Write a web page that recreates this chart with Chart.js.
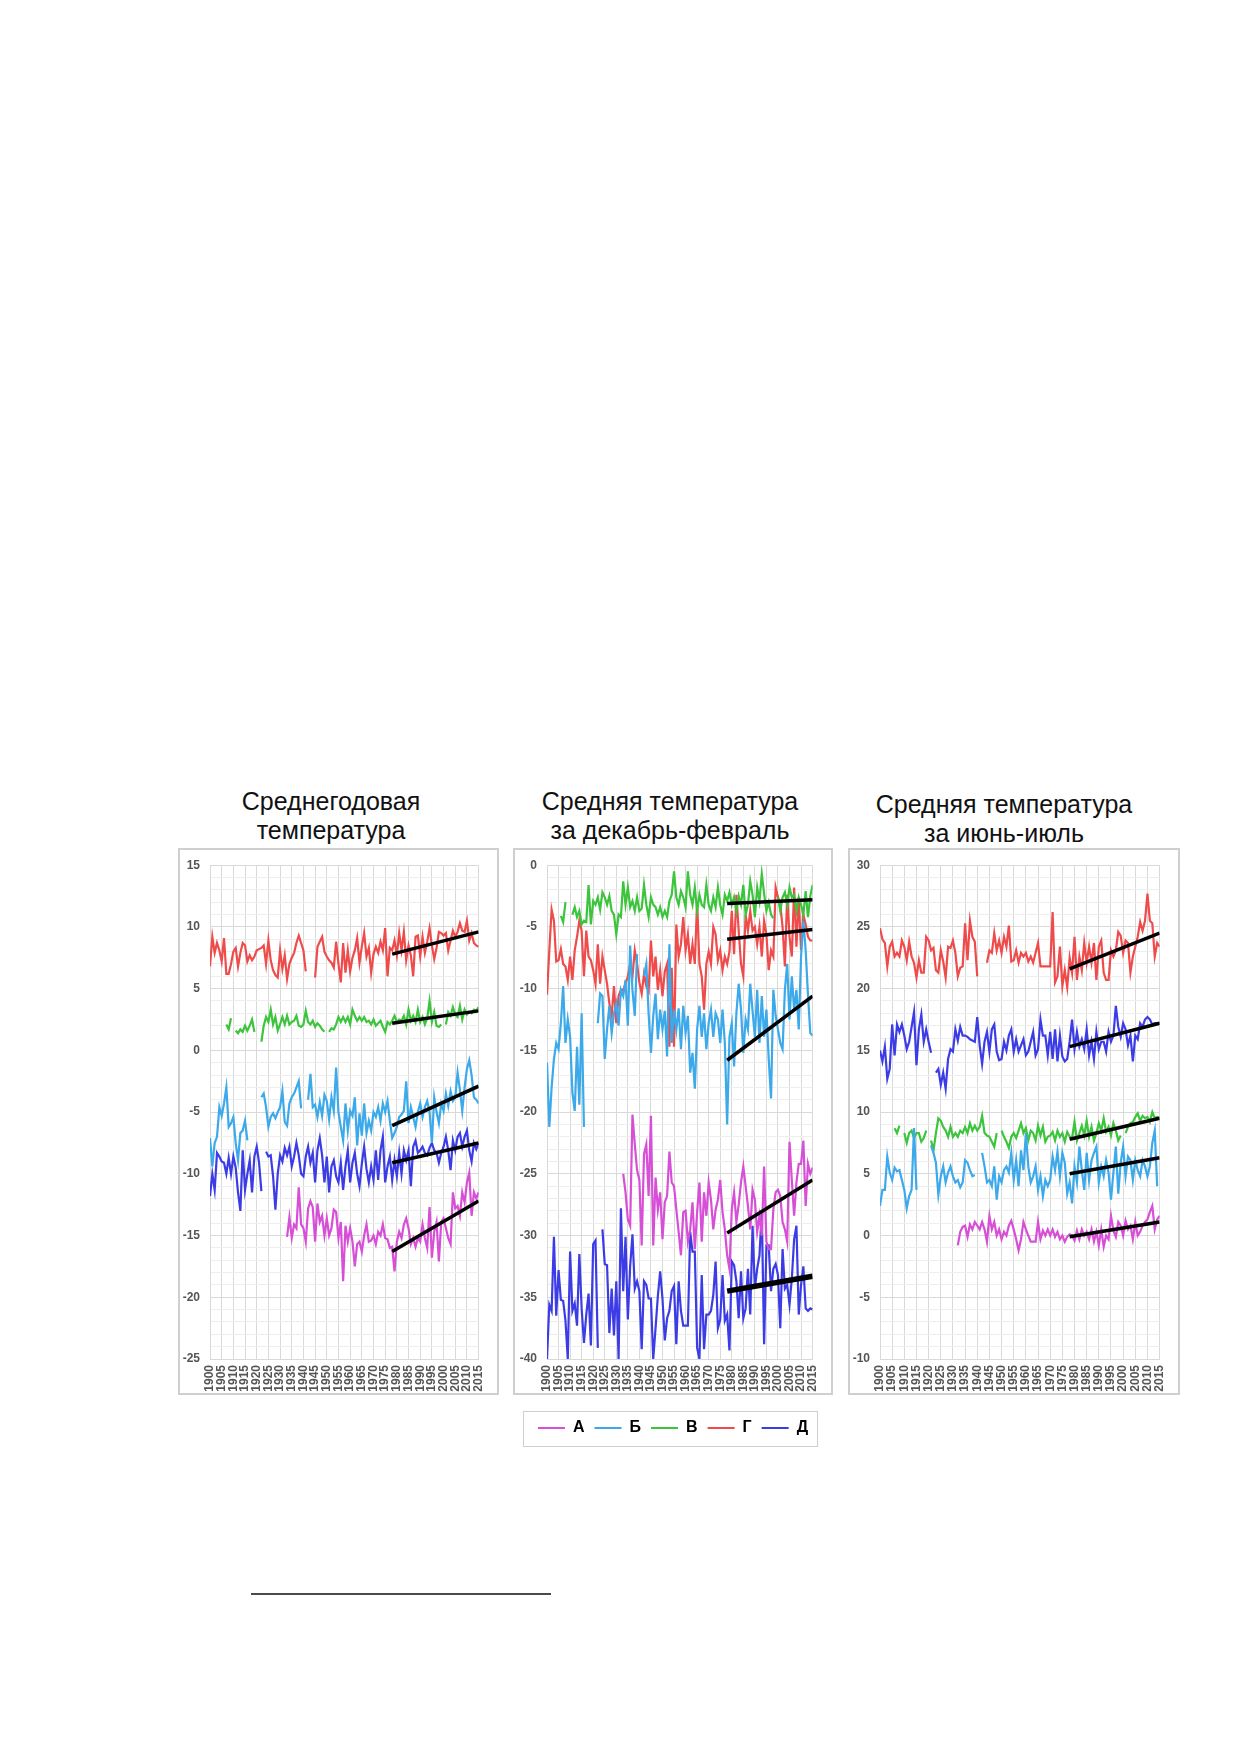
<!DOCTYPE html>
<html>
<head>
<meta charset="utf-8">
<script src="https://cdn.jsdelivr.net/npm/chart.js@4.4.1/dist/chart.umd.min.js"></script>
<style>
  html, body { margin: 0; padding: 0; background: #fff; }
  body { width: 1239px; height: 1752px; position: relative; overflow: hidden; font-family: 'Liberation Sans', Arial, sans-serif; }
  .title { position: absolute; width: 360px; text-align: center; font-size: 25px; line-height: 29px; color: #111; }
  .box { position: absolute; box-sizing: border-box; border: 2px solid #cfcfcf; }
  .box canvas { position: absolute; left: -2px; top: -2px; }
  .footline { position: absolute; left: 251px; top: 1593px; width: 300px; height: 2px; background: #4a4a4a; }
</style>
</head>
<body>

<div class="title" style="left:151px; top:787px;">Среднегодовая<br>температура</div>
<div class="title" style="left:490px; top:787px;">Средняя температура<br>за декабрь-февраль</div>
<div class="title" style="left:824px; top:790px;">Средняя температура<br>за июнь-июль</div>

<div class="box" style="left:178px; top:848px; width:321px; height:547px;"><canvas id="annual" width="321" height="547"></canvas></div>
<div class="box" style="left:513px; top:848px; width:320px; height:547px;"><canvas id="winter" width="320" height="547"></canvas></div>
<div class="box" style="left:848px; top:848px; width:332px; height:547px;"><canvas id="summer" width="332" height="547"></canvas></div>

<div class="box" style="left:523px; top:1411px; width:295px; height:36px; border-width:1.5px;"></div>
<canvas id="legend" width="320" height="90" style="position:absolute; left:513px; top:1410px;"></canvas>

<div class="footline"></div>

<script>
// years run 1900..2015, one value per year, null = no data
const FIRST_YEAR = 1900;
const LAST_YEAR = 2015;
function fromYear(start, vals) {
  const out = [];
  for (let y = FIRST_YEAR; y < start; y++) out.push(null);
  return out.concat(vals);
}

const seriesNames = ['А', 'Б', 'В', 'Г', 'Д'];
const seriesColors = ['#d64fd6', '#3ba9ea', '#3cc43c', '#ef4b4b', '#3c3ce6'];

// trend lines drawn over 1978..2015
const trendYears = [1978, 2015];

// ---- annual mean temperature ----
const annA = fromYear(1933, [
  -15.1, -13.5, -15.2, -14.1, -14.4, -11.1, -14.1,
  -14.4, -15.5, -12.8, -12.2, -12.7, -15.5, -12.4, -13.9, -13.4, -15.0,
  -13.6, -15.0, -14.4, -12.9, -13.1, -15.2, -13.9, -18.7, -14.2, -15.5,
  -14.4, -15.5, -17.5, -15.7, -15.5, -16.3, -15.0, -14.1, -15.5, -15.4,
  -15.0, -15.7, -14.7, -15.0, -14.1, -15.2, -15.3, -16.0, -15.9, -17.9,
  -15.5, -14.7, -15.2, -14.1, -13.6, -14.4, -15.7, -15.2, -15.9, -15.2,
  -15.5, -14.1, -15.2, -16.0, -12.7, -16.8, -14.7, -13.9, -17.1, -13.9,
  -13.6, -14.4, -15.2, -15.7, -11.5, -12.8, -12.6, -13.4, -11.5, -12.3,
  -10.7, -9.9, -13.4, -11.5, -12.0, -11.5
]);
const annB = [
  -7.1, -9.4, -7.5, -7.0, -4.6, -5.3, -4.3, -3.0, -6.2, -5.9,
  -5.4, -7.5, -8.9, -6.7, -6.5, -5.7, -7.3, null, null, null,
  null, null, -3.8, -3.5, -4.6, -6.2, -5.4, -5.1, -5.5, -5.0,
  -4.6, -3.3, -5.8, -6.1, -4.3, -3.8, -3.5, -3.0, -2.5, -4.7,
  null, null, -4.0, -1.9, -4.6, -4.4, -5.4, -4.2, -5.3, -3.6,
  -4.1, -5.6, -3.8, -4.9, -1.4, -5.0, -6.2, -7.3, -4.3, -6.5,
  -4.9, -5.3, -3.8, -7.7, -5.1, -6.9, -4.3, -6.7, -5.7, -6.5,
  -5.0, -5.4, -4.6, -5.7, -4.3, -5.0, -4.1, -5.7, -7.1, -6.7,
  -6.2, -5.4, -5.2, -4.9, -2.5, -5.9, -4.6, -5.4, -6.2, -5.0,
  -4.3, -5.4, -4.6, -4.1, -5.0, -7.5, -3.8, -5.0, -5.9, -4.3,
  -4.9, -3.5, -4.5, -3.3, -4.1, -3.8, -1.8, -3.2, -4.9, -3.0,
  -1.5, -0.8, -2.0, -3.8, -4.0, -4.3
];
const annV = fromYear(1907, [
  2.1, 1.7, 2.6,
  null, 1.6, 1.4, 1.7, 1.5, 2.0, 1.6, 2.0, 2.5, 1.5,
  null, null, 0.7, 2.0, 2.7, 2.3, 3.3, 2.1, 2.7, 1.6,
  2.1, 2.7, 2.1, 2.8, 2.1, 2.3, 2.4, 2.8, 2.0, 1.9,
  2.1, 3.2, 2.3, 2.1, 2.4, 1.9, 2.2, 2.0, 1.7, 1.5,
  null, 1.5, 1.8, 1.7, 2.1, 2.7, 2.3, 2.7, 2.3, 2.7,
  2.1, 3.3, 2.8, 2.4, 2.7, 2.4, 2.7, 2.3, 2.4, 2.1,
  2.5, 2.0, 2.2, 2.4, 1.9, 1.5, 2.3, 2.1, 2.4, 2.8,
  2.3, 2.5, 2.4, 2.8, 2.1, 3.3, 2.4, 2.8, 2.3, 3.3,
  2.3, 2.7, 2.1, 2.6, 4.0, 2.3, 3.1, 2.0, 1.9, 2.1,
  null, 2.1, 3.1, 2.8, 3.5, 2.9, 2.7, 3.6, 2.5, 3.3,
  2.9, 3.1, 3.0, 3.3, 3.2, 3.5
]);
const annG = [
  6.8, 9.2, 7.9, 8.7, 8.1, 7.2, 9.1, 6.2, 6.2, 7.0,
  8.0, 8.3, 6.8, 7.9, 8.7, 8.5, 7.2, 7.7, 7.3, 7.6,
  8.1, 8.2, 8.3, 8.5, 7.0, 8.9, 7.3, 6.5, 6.1, 5.9,
  8.1, 6.6, 7.7, 5.8, 7.0, 7.5, 7.9, 8.7, 9.3, 8.7,
  8.1, 6.4, null, null, null, 5.9, 8.4, 8.8, 9.2, 8.0,
  7.6, 7.3, 7.1, 6.7, 8.8, 7.0, 5.5, 8.7, 6.3, 8.1,
  6.4, 7.5, 8.1, 9.1, 7.1, 8.4, 9.5, 7.6, 8.3, 6.3,
  7.8, 8.4, 7.9, 8.8, 8.1, 9.9, 6.0, 8.3, 8.1, 8.9,
  7.7, 9.5, 8.1, 9.6, 7.3, 8.5, 7.7, 6.0, 9.2, 9.3,
  7.6, 9.2, 7.9, 8.8, 9.9, 8.5, 7.4, 8.3, 9.6, 9.5,
  9.3, 9.5, 8.1, 8.9, 9.7, 9.2, 9.6, 10.3, 9.7, 9.6,
  10.5, 8.9, 9.5, 8.7, 8.5, 8.4
];
const annD = [
  -11.8, -10.0, -11.3, -8.3, -8.6, -9.0, -9.1, -10.0, -8.7, -10.0,
  -8.6, -9.5, -11.5, -13.0, -8.1, -11.3, -10.0, -8.9, -11.5, -8.6,
  -7.8, -9.1, -11.4, null, -8.2, -8.6, -8.5, -10.2, -12.9, -10.0,
  -8.5, -9.0, -7.9, -8.5, -7.8, -9.4, -8.6, -7.5, -8.5, -10.0,
  -10.2, -8.6, -7.8, -9.1, -8.3, -10.7, -8.1, -7.1, -8.5, -10.7,
  -8.6, -11.5, -9.4, -8.9, -10.2, -10.7, -9.1, -11.3, -9.4, -8.1,
  -10.7, -9.1, -8.3, -10.0, -11.0, -9.2, -7.8, -9.6, -10.7, -9.4,
  -10.5, -8.1, -10.5, -8.1, -7.0, -10.7, -9.4, -8.6, -10.5, -8.9,
  -10.2, -8.3, -10.0, -8.1, -8.9, -8.1, -11.0, -7.8, -7.3, -8.3,
  -8.1, -7.8, -8.3, -8.5, -7.9, -7.5, -8.1, -8.3, -9.1, -8.3,
  -7.8, -7.0, -8.1, -9.7, -7.3, -8.1, -7.0, -6.7, -7.8, -7.0,
  -6.5, -8.1, -9.0, -7.5, -8.0, -7.5
];
const annTrendStart = [-16.3, -6.1, 2.2, 7.8, -9.1];
const annTrendEnd   = [-12.2, -2.9, 3.2, 9.6, -7.5];

// ---- December-February ----
const winA = fromYear(1933, [
  -25.0, -26.5, -28.7, -29.2, -20.2, -22.6, -24.7,
  -25.5, -30.8, -23.4, -22.6, -26.8, -20.3, -30.8, -25.3, -27.9, -26.5,
  -30.3, -27.3, -26.8, -23.2, -25.7, -26.0, -27.9, -29.7, -31.6, -28.1,
  -28.0, -30.5, -29.5, -27.3, -31.1, -28.1, -25.7, -30.5, -26.5, -28.4,
  -25.7, -27.1, -29.5, -27.9, -27.1, -25.5, -28.1, -29.5, -31.6, -32.7,
  -27.9, -26.5, -28.9, -27.5, -25.7, -24.4, -26.0, -27.6, -29.5, -26.3,
  -27.1, -29.7, -28.4, -30.0, -24.4, -30.5, -31.1, -31.1, -27.9, -26.5,
  -26.3, -26.8, -28.9, -29.5, -30.5, -22.4, -25.5, -28.4, -25.7, -24.2,
  -24.2, -22.3, -27.6, -24.2, -25.0, -24.5
]);
const winB = [
  -16.0, -21.2, -18.0, -15.7, -14.4, -14.9, -12.8, -9.8, -14.4, -12.5,
  -13.9, -18.4, -19.9, -14.7, -19.4, -12.0, -21.2, null, null, null,
  null, null, -12.8, -10.4, -10.6, -15.7, -13.3, -11.4, -13.6, -12.0,
  -11.2, -13.0, -10.1, -10.6, -9.3, -13.0, -6.5, -10.1, -12.2, -7.2,
  null, null, -9.0, -8.0, -12.0, -15.2, -12.2, -10.4, -14.1, -11.7,
  -13.3, -11.8, -15.5, -6.4, -14.4, -11.7, -13.3, -11.6, -14.9, -11.4,
  -13.6, -12.2, -16.8, -15.2, -18.1, -13.3, -11.4, -13.9, -12.0, -14.9,
  -12.8, -11.7, -13.9, -12.0, -12.5, -14.4, -11.7, -14.4, -21.0, -13.9,
  -12.8, -16.3, -12.0, -9.6, -11.7, -15.2, -12.5, -13.3, -9.6, -11.8,
  -13.9, -10.1, -14.4, -10.6, -13.9, -11.7, -15.7, -18.9, -10.1, -12.2,
  -13.3, -14.4, -14.9, -10.1, -8.0, -12.5, -9.0, -11.7, -10.1, -13.3,
  -7.4, -4.5, -6.9, -10.5, -13.6, -13.8
];
const winV = fromYear(1906, [
  -4.1, -4.6, -3.0, null,
  null, -4.0, -3.4, -4.2, -3.7, -4.8, -4.5, -4.6, -1.6, -4.8,
  -2.9, -3.2, -2.6, -3.6, -2.2, -2.6, -3.2, -2.5, -3.7, -4.0,
  -5.6, -4.0, -4.2, -1.3, -3.2, -1.8, -3.4, -2.9, -3.7, -2.6,
  -3.7, -3.5, -1.6, -3.2, -4.2, -2.6, -3.2, -3.4, -4.0, -3.4,
  -4.2, -3.7, -4.2, -2.9, -2.4, -0.5, -2.6, -3.2, -2.1, -2.6,
  -3.4, -0.5, -2.4, -3.2, -1.8, -3.7, -2.4, -3.2, -3.4, -1.6,
  -3.2, -3.7, -2.6, -3.4, -1.8, -3.2, -4.0, -2.4, -2.9, -2.2,
  -3.2, -2.6, -3.7, -2.5, -3.2, -1.6, -4.0, -3.2, -1.3, -2.4,
  -4.2, -1.8, -2.9, -0.7, -2.3, -3.7, -3.0, -4.0, -4.3, null,
  -2.6, -3.7, -2.6, -2.2, -3.2, -1.8, -2.6, -2.4, -3.7, -2.6,
  -3.2, -4.0, -2.1, -4.2, -2.5, -1.6
]);
const winG = [
  -10.5, -6.9, -3.6, -4.5, -7.8, -7.7, -6.8, -8.0, -8.2, -9.3,
  -7.4, -9.3, -6.9, -5.8, -4.5, -5.3, -9.0, -5.3, -7.4, -7.7,
  -8.5, -9.6, -6.4, -9.6, -7.4, -8.5, -9.6, -11.2, -12.2, -9.8,
  -12.8, -10.6, -10.1, -10.1, -9.6, -9.0, -8.0, -9.0, -6.9, -8.0,
  -9.5, -10.4, -8.8, -9.8, -10.2, -6.1, -9.0, -7.4, -10.1, -8.5,
  -10.6, -8.6, -8.0, -14.7, -8.3, -14.7, -4.8, -7.4, -6.4, -4.2,
  -6.9, -5.6, -8.0, -6.4, -8.0, -2.9, -8.0, -9.0, -11.7, -8.0,
  -7.0, -8.0, -5.0, -5.6, -7.7, -6.9, -8.5, -7.4, -8.0, -7.0,
  -3.7, -7.2, -2.4, -5.3, -8.0, -9.0, -4.0, -5.3, -3.7, -5.3,
  -5.0, -6.4, -5.0, -7.4, -4.5, -5.6, -8.5, -6.9, -7.4, -1.8,
  -2.6, -3.2, -5.0, -8.2, -2.4, -5.8, -7.4, -1.8, -6.6, -2.6,
  -6.9, -4.0, -4.8, -5.8, -6.1, -6.1
];
const winD = [
  -40.0, -35.6, -36.1, -30.1, -36.5, -32.8, -35.2, -35.3, -36.9, -40.0,
  -31.3, -36.1, -35.5, -37.3, -31.5, -35.9, -38.7, -36.4, -34.7, -38.9,
  -30.7, -30.4, -39.1, null, -29.5, -32.3, -32.4, -37.9, -34.3, -38.1,
  -33.7, -40.0, -27.8, -34.5, -30.1, -36.8, -32.5, -29.9, -34.3, -33.7,
  -34.5, -39.2, -33.7, -34.0, -35.1, -35.1, -40.0, -37.5, -34.9, -32.9,
  -35.1, -38.5, -36.7, -36.1, -34.5, -34.1, -38.8, -33.7, -36.1, -37.3,
  -37.3, -37.3, -29.7, -31.3, -31.3, -39.1, -40.0, -33.2, -39.2, -36.4,
  -36.4, -36.1, -34.8, -32.1, -37.5, -36.8, -33.2, -36.9, -36.4, -39.3,
  -32.1, -32.4, -33.7, -36.7, -32.9, -36.7, -35.9, -32.7, -36.4, -29.2,
  -34.3, -32.7, -31.6, -28.0, -38.8, -30.8, -30.8, -34.5, -32.7, -32.3,
  -33.2, -37.5, -31.1, -34.3, -34.0, -35.6, -33.5, -30.3, -29.2, -36.4,
  -34.0, -32.5, -35.9, -36.1, -35.9, -36.0
];
const winTrendStart = [-29.8, -15.8, -3.1, -6.0, -34.5];
const winTrendEnd   = [-25.5, -10.6, -2.8, -5.2, -33.3];

// ---- June-July ----
const sumA = fromYear(1932, [
  -0.8, 0.3, 0.7, 0.8, -0.1, 0.9, 0.5, 1.1, 0.8, 0.5,
  1.1, 0.5, -0.5, 1.6, 0.5, 1.1, 0.0, 0.5, -0.3, 0.3,
  0.0, 0.8, 1.2, 0.5, -0.3, -1.2, -0.3, 1.1, 0.5, 0.0,
  -0.5, -0.5, -0.5, 1.1, -0.3, 0.4, 0.0, 0.5, 0.0, 0.5,
  -0.1, 0.3, -0.3, 0.0, -0.5, -0.1, 0.1, 0.0, -0.4, 0.4,
  -0.3, 0.5, 0.0, 0.3, -0.3, 0.5, -0.5, 0.3, -0.8, 0.5,
  -0.9, 0.0, -0.3, 1.6, 0.4, -0.1, 1.1, 0.8, 0.0, 1.2,
  0.5, 0.8, -0.3, 1.1, 0.0, 0.3, 0.8, 1.1, 1.3, 1.9,
  2.4, 0.5, 1.3, 1.6
]);
const sumB = [
  2.4, 3.7, 3.7, 6.4, 5.1, 4.5, 5.5, 5.2, 5.3, 4.5,
  3.7, 2.2, 3.2, 3.7, 8.7, 3.7, null, null, null, null,
  null, 7.3, 6.7, 5.9, 3.3, 4.8, 5.6, 4.3, 5.1, 5.6,
  4.8, 4.3, 4.5, 3.9, 4.3, 6.1, 5.9, 5.3, 4.8, 4.9,
  null, null, 6.7, 5.6, 4.3, 4.5, 4.0, 5.6, 2.9, 4.8,
  4.3, 5.3, 5.6, 5.1, 6.7, 4.5, 6.1, 4.0, 6.9, 5.3,
  8.3, 5.6, 4.3, 4.8, 5.6, 3.7, 4.8, 3.2, 4.5, 4.0,
  4.5, 6.4, 5.3, 6.8, 4.8, 6.7, 5.9, 3.4, 4.3, 2.6,
  5.6, 4.3, 7.2, 5.3, 3.7, 6.7, 4.5, 6.1, 6.7, 7.2,
  4.3, 5.6, 4.8, 6.1, 5.1, 2.9, 5.1, 7.2, 3.4, 5.9,
  7.2, 4.8, 6.4, 6.1, 4.5, 6.1, 5.3, 4.8, 6.1, 5.6,
  4.8, 5.6, 7.5, 8.5, 4.0, null
];
const sumV = fromYear(1906, [
  8.7, 8.3, 8.9, null,
  8.3, 7.5, 8.3, 8.5, 7.9, 8.3, 8.3, 7.6, 7.9, 8.5,
  null, 7.7, 6.9, 8.3, 9.5, 9.3, 8.8, 8.5, 8.0, 8.8,
  8.0, 8.3, 8.0, 8.5, 8.3, 8.8, 8.3, 9.1, 8.5, 8.9,
  8.5, 8.8, 9.7, 8.3, 8.1, 8.0, 7.6, 7.2, 8.3, null,
  8.5, 8.0, 7.6, 7.1, 8.0, 8.3, 7.9, 8.5, 9.1, 8.3,
  8.7, 7.7, 8.5, 8.3, 7.7, 8.9, 8.1, 8.8, 7.6, 8.0,
  8.1, 8.4, 7.7, 8.5, 8.0, 8.3, 7.6, 8.4, 8.0, 7.9,
  9.2, 7.7, 8.3, 8.9, 8.1, 9.3, 8.0, 8.8, 7.7, 8.3,
  9.1, 8.5, 9.5, 8.4, 8.8, 8.1, 9.1, 8.5, 7.7, 8.1,
  null, 8.3, 8.8, 9.1, 9.2, 9.6, 9.9, 9.3, 9.7, 9.5,
  9.6, 9.2, 10.0, 9.5, 9.6, 9.5
]);
const sumG = [
  24.9, 24.0, 23.7, 21.8, 23.4, 23.8, 22.6, 22.9, 22.6, 23.9,
  23.4, 22.3, 23.8, 22.6, 22.1, 20.9, 22.3, 21.3, 21.3, 24.2,
  23.9, 23.1, 23.3, 21.5, 21.3, 23.1, 22.2, 20.9, 23.4, 23.3,
  23.9, 22.9, 21.0, 21.7, 21.8, 25.3, 22.3, 25.5, 24.2, 23.8,
  21.0, null, null, null, 22.1, 23.1, 22.9, 24.5, 23.1, 23.9,
  22.9, 24.2, 23.4, 25.1, 22.2, 22.3, 23.1, 22.1, 22.9, 22.6,
  22.9, 22.2, 22.6, 22.1, 22.9, 23.7, 21.8, 21.8, 21.8, 21.8,
  21.8, 26.2, 20.5, 21.0, 23.4, 20.2, 21.5, 20.1, 22.5, 21.3,
  24.2, 20.7, 22.6, 21.5, 23.7, 22.1, 23.4, 22.1, 23.7, 20.7,
  23.4, 23.9, 21.3, 20.7, 20.7, 23.1, 22.6, 23.1, 24.6, 24.3,
  22.9, 23.9, 23.7, 21.3, 22.6, 23.4, 24.2, 25.4, 24.7, 25.5,
  27.7, 25.5, 25.3, 22.6, 23.7, 23.4
];
const sumD = [
  15.0, 14.1, 15.3, 12.7, 13.5, 17.1, 14.6, 17.1, 16.5, 17.1,
  16.2, 15.1, 15.7, 16.9, 18.1, 13.8, 16.7, 17.9, 15.7, 16.7,
  15.7, 14.8, null, 13.2, 13.5, 12.2, 13.2, 11.9, 14.3, 15.1,
  14.9, 16.7, 15.8, 16.9, 16.2, 16.2, 16.1, 15.9, 15.8, 15.7,
  17.7, 15.4, 13.9, 15.7, 16.5, 14.9, 16.7, 17.1, 14.9, 14.2,
  14.3, 15.7, 15.0, 16.2, 16.7, 14.9, 15.9, 14.9, 15.4, 15.9,
  14.6, 14.9, 15.7, 16.5, 14.6, 15.1, 17.5, 16.2, 16.2, 14.6,
  16.5, 14.3, 16.7, 14.1, 16.2, 14.5, 14.1, 14.3, 15.7, 17.5,
  15.1, 16.5, 15.3, 15.9, 15.1, 16.7, 14.6, 15.7, 14.3, 16.5,
  15.1, 15.7, 15.7, 14.9, 16.5, 15.7, 16.2, 18.6, 16.9, 16.1,
  17.2, 16.7, 15.4, 16.2, 14.1, 16.2, 15.9, 17.2, 16.9, 17.5,
  17.7, 17.5, 17.1, 17.2, 17.2, 17.2
];
const sumTrendStart = [-0.1, 5.0, 7.8, 21.6, 15.3];
const sumTrendEnd   = [1.1, 6.3, 9.5, 24.5, 17.2];

const FONT = "'Liberation Sans', Arial, sans-serif";

function toPoints(vals) {
  return vals.map((v, i) => ({ x: FIRST_YEAR + i, y: v }));
}

function makePanel(id, series, tStart, tEnd, trendWidths, yMin, yMax, yAxisWidth, padRight) {
  const datasets = [];
  series.forEach((vals, i) => {
    datasets.push({
      label: 'trend ' + seriesNames[i],
      data: [{ x: trendYears[0], y: tStart[i] }, { x: trendYears[1], y: tEnd[i] }],
      borderColor: '#000',
      borderWidth: trendWidths[i],
      pointRadius: 0,
      order: 0
    });
  });
  series.forEach((vals, i) => {
    datasets.push({
      label: seriesNames[i],
      data: toPoints(vals),
      borderColor: seriesColors[i],
      borderWidth: 2.2,
      pointRadius: 0,
      tension: 0,
      spanGaps: false,
      order: 1
    });
  });

  new Chart(document.getElementById(id), {
    type: 'line',
    data: { datasets: datasets },
    options: {
      responsive: false,
      animation: false,
      layout: { padding: { left: 0, right: padRight, top: 9, bottom: 2 } },
      plugins: { legend: { display: false }, tooltip: { enabled: false } },
      scales: {
        x: {
          type: 'linear',
          min: FIRST_YEAR,
          max: LAST_YEAR,
          afterFit: s => { s.height = 34; },
          grid: { color: '#d9d9d9', drawTicks: false },
          border: { color: '#d9d9d9' },
          ticks: {
            stepSize: 5,
            autoSkip: false,
            minRotation: 90,
            maxRotation: 90,
            padding: 6,
            color: '#555',
            font: { family: FONT, size: 12, weight: 'bold' },
            callback: v => String(v)
          }
        },
        y: {
          min: yMin,
          max: yMax,
          afterFit: s => { s.width = yAxisWidth; },
          grid: {
            drawTicks: false,
            color: c => (Math.round(c.tick.value) % 5 === 0 ? '#d9d9d9' : '#eeeeee')
          },
          border: { color: '#d9d9d9' },
          ticks: {
            stepSize: 1,
            autoSkip: false,
            padding: 10,
            color: '#555',
            font: { family: FONT, size: 12, weight: 'bold' },
            callback: v => (Math.round(v) % 5 === 0 ? String(Math.round(v)) : '')
          }
        }
      }
    }
  });
}

makePanel('annual', [annA, annB, annV, annG, annD], annTrendStart, annTrendEnd,
  [3.5, 3.5, 3.5, 3.5, 3.5], -25, 15, 32, 9);
makePanel('winter', [winA, winB, winV, winG, winD], winTrendStart, winTrendEnd,
  [3.5, 3.5, 3.5, 3.5, 5.5], -40, 0, 34, 10);
makePanel('summer', [sumA, sumB, sumV, sumG, sumD], sumTrendStart, sumTrendEnd,
  [3.5, 3.5, 3.5, 3.5, 3.5], -10, 30, 32, 10);

// shared legend under the middle panel
new Chart(document.getElementById('legend'), {
  type: 'line',
  data: {
    datasets: seriesNames.map((n, i) => ({
      label: n, data: [], borderColor: seriesColors[i], backgroundColor: seriesColors[i], borderWidth: 2
    }))
  },
  options: {
    responsive: false,
    animation: false,
    layout: { padding: 0 },
    scales: { x: { display: false }, y: { display: false } },
    plugins: {
      tooltip: { enabled: false },
      legend: {
        display: true,
        position: 'top',
        labels: {
          usePointStyle: true,
          pointStyle: 'line',
          pointStyleWidth: 27,
          padding: 10,
          color: '#000',
          font: { family: FONT, size: 16, weight: 'bold' }
        }
      }
    }
  }
});
</script>
</body>
</html>
